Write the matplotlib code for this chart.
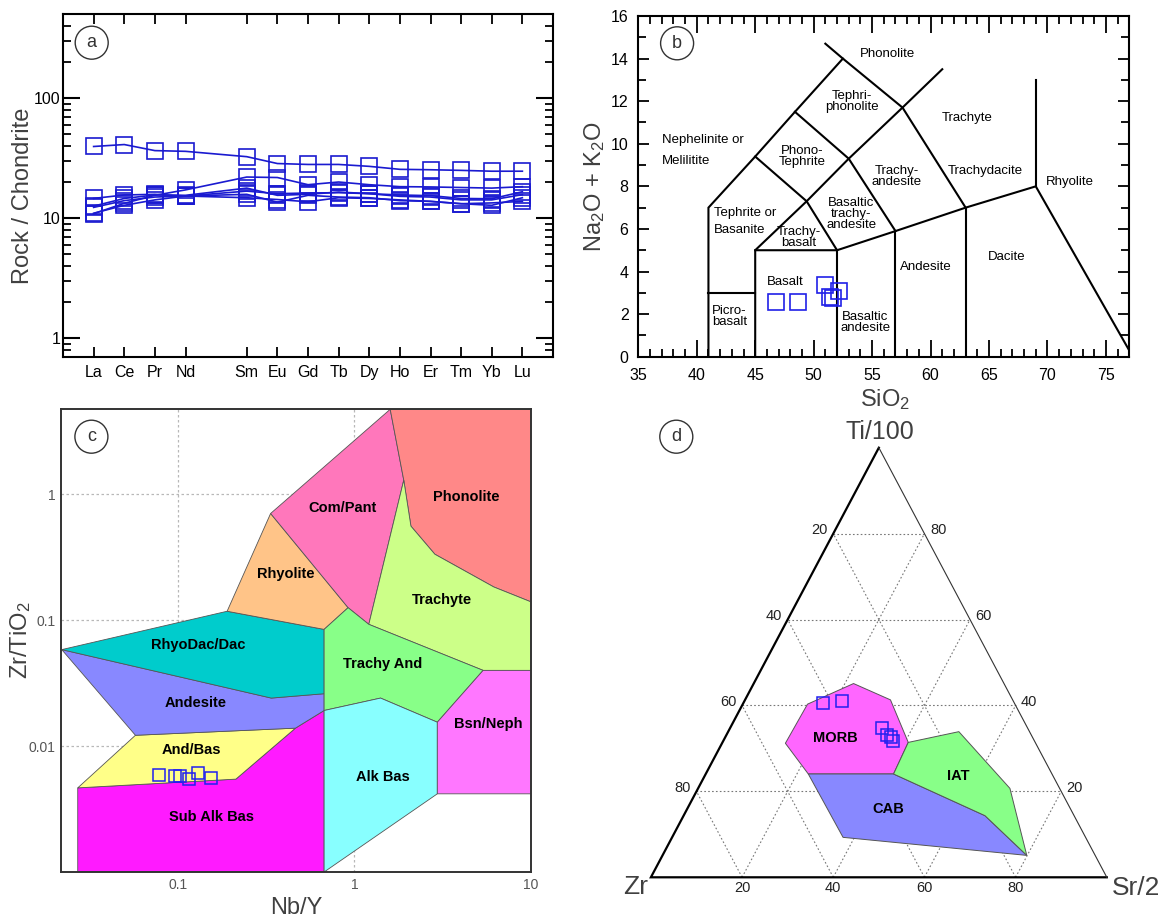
import matplotlib
matplotlib.use('Agg')
import matplotlib.pyplot as plt
from matplotlib.patches import Polygon, Ellipse
from matplotlib.ticker import MultipleLocator, NullLocator, FuncFormatter

plt.rcParams['font.family'] = ['Liberation Sans', 'DejaVu Sans']
plt.rcParams['mathtext.fontset'] = 'custom'
plt.rcParams['mathtext.rm'] = 'Liberation Sans'
plt.rcParams['mathtext.it'] = 'Liberation Sans:italic'
plt.rcParams['mathtext.bf'] = 'Liberation Sans:bold'

W, H = 1165, 922

# ---- (a) chondrite-normalised REE patterns
ree = ['La', 'Ce', 'Pr', 'Nd', 'Sm', 'Eu', 'Gd', 'Tb', 'Dy', 'Ho', 'Er', 'Tm', 'Yb', 'Lu']
ree_pos = [0, 1, 2, 3, 5, 6, 7, 8, 9, 10, 11, 12, 13, 14]   # gap left for Pm
ree_samples = [
    [39.5, 41.0, 36.5, 36.0, 32.5, 28.5, 28.0, 28.0, 27.0, 25.5, 25.3, 25.0, 24.6, 24.6],
    [10.9, 13.3, 15.5, 17.2, 22.0, 21.8, 19.0, 20.0, 19.0, 18.3, 18.2, 18.0, 17.8, 18.3],
    [14.6, 15.6, 15.8, 15.3, 16.8, 16.0, 16.2, 16.3, 16.0, 15.6, 15.4, 14.6, 14.5, 16.6],
    [12.6, 14.6, 15.6, 15.5, 17.8, 15.5, 15.8, 16.5, 16.0, 15.2, 15.0, 14.2, 14.2, 15.7],
    [11.0, 12.8, 14.2, 15.3, 15.8, 13.6, 15.5, 15.0, 14.8, 14.0, 13.8, 13.2, 12.8, 14.8],
    [12.3, 14.0, 15.0, 15.3, 14.8, 14.3, 13.7, 14.8, 14.6, 14.2, 13.8, 13.2, 13.4, 13.8],
]

# ---- (b) TAS
sio2 = [46.75, 48.66, 50.97, 52.2, 51.37, 51.65]
alkali = [2.58, 2.58, 3.37, 3.10, 2.79, 2.74]
tas_lines = [
    [(41, 0), (41, 7), (45, 9.4), (48.4, 11.5), (52.5, 14)],
    [(45, 0), (45, 5), (49.4, 7.3), (53, 9.3), (57.6, 11.7), (61, 13.5)],
    [(41, 3), (45, 3)],
    [(45, 5), (52, 5), (57, 5.9), (63, 7), (69, 8), (77.3, 0)],
    [(52, 0), (52, 5)],
    [(57, 0), (57, 5.9)],
    [(63, 0), (63, 7)],
    [(69, 8), (69, 13)],
    [(45, 9.4), (49.4, 7.3), (52, 5)],
    [(48.4, 11.5), (53, 9.3), (57, 5.9)],
    [(51.0, 14.7), (52.5, 14), (57.6, 11.7), (63, 7)],
]
tas_names = ['Phonolite', 'Tephri-\nphonolite', 'Trachyte', 'Phono-\nTephrite', 'Trachy-\nandesite',
             'Trachydacite', 'Rhyolite', 'Basaltic\ntrachy-\nandesite', 'Trachy-\nbasalt', 'Basalt',
             'Andesite', 'Dacite', 'Picro-\nbasalt', 'Basaltic\nandesite']
tas_name_x = [56.3, 53.3, 63.1, 49.0, 57.1, 64.7, 71.95, 53.2, 48.7, 47.6, 59.6, 66.5, 42.8, 54.4]
tas_name_y = [14.2, 12.0, 11.2, 9.4, 8.45, 8.7, 8.2, 6.7, 5.6, 3.5, 4.2, 4.7, 1.9, 1.6]

# ---- (c) Zr/TiO2 vs Nb/Y
nby = [0.0778, 0.0963, 0.1028, 0.116, 0.1306, 0.155]
zrti = [0.00585, 0.00577, 0.00577, 0.0055, 0.0061, 0.00556]
wf_fields = {
    'Sub Alk Bas': [(0.0271, 0.00466), (0.213, 0.00547), (0.463, 0.0139), (0.673, 0.0192),
                    (0.673, 0.001), (0.0271, 0.001)],
    'And/Bas': [(0.0575, 0.0122), (0.463, 0.0139), (0.213, 0.00547), (0.0271, 0.00466)],
    'Andesite': [(0.022, 0.0585), (0.338, 0.0241), (0.673, 0.0261), (0.673, 0.0192),
                 (0.463, 0.0139), (0.0575, 0.0122)],
    'RhyoDac/Dac': [(0.022, 0.0585), (0.190, 0.118), (0.673, 0.0847), (0.673, 0.0261), (0.338, 0.0241)],
    'Rhyolite': [(0.190, 0.118), (0.335, 0.706), (0.920, 0.126), (0.673, 0.0847)],
    'Com/Pant': [(0.335, 0.706), (1.593, 4.75), (1.901, 1.30), (1.205, 0.0929), (0.920, 0.126)],
    'Phonolite': [(1.593, 4.75), (10, 4.75), (10, 0.140), (6.15, 0.184), (2.851, 0.335),
                  (2.087, 0.560), (1.901, 1.30)],
    'Trachyte': [(1.901, 1.30), (2.087, 0.560), (2.851, 0.335), (6.15, 0.184), (10, 0.140),
                 (10, 0.0400), (5.35, 0.0400), (1.205, 0.0929)],
    'Trachy And': [(0.920, 0.126), (1.205, 0.0929), (5.35, 0.0400), (2.944, 0.0155),
                   (1.405, 0.0241), (0.673, 0.0192), (0.673, 0.0847)],
    'Alk Bas': [(0.673, 0.0192), (1.405, 0.0241), (2.944, 0.0155), (2.944, 0.00418), (0.673, 0.001)],
    'Bsn/Neph': [(2.944, 0.0155), (5.35, 0.0400), (10, 0.0400), (10, 0.00418), (2.944, 0.00418)],
}
wf_colors = {
    'Sub Alk Bas': '#ff1aff', 'And/Bas': '#ffff88', 'Andesite': '#8888ff', 'RhyoDac/Dac': '#00cccc',
    'Rhyolite': '#ffc488', 'Com/Pant': '#ff77bb', 'Phonolite': '#ff8888', 'Trachyte': '#ccff88',
    'Trachy And': '#88ff88', 'Alk Bas': '#88ffff', 'Bsn/Neph': '#ff77ff',
}
wf_label_pos = {
    'Sub Alk Bas': (0.154, 0.00275), 'And/Bas': (0.119, 0.0094), 'Andesite': (0.126, 0.0221),
    'RhyoDac/Dac': (0.131, 0.0633), 'Rhyolite': (0.409, 0.232), 'Com/Pant': (0.85, 0.783),
    'Phonolite': (4.28, 0.958), 'Trachyte': (3.13, 0.146), 'Trachy And': (1.45, 0.0447),
    'Alk Bas': (1.45, 0.00567), 'Bsn/Neph': (5.73, 0.0151),
}

# ---- (d) Ti/100 - Zr - Sr/2 ternary (percent Zr, Ti, Sr)
tern_zr = [41.9, 37.6, 32.0, 31.6, 31.0, 30.9]
tern_ti = [40.5, 41.1, 34.8, 33.1, 32.6, 31.8]
tern_sr = [17.6, 21.3, 33.2, 35.3, 36.4, 37.3]
pc_fields = {
    'MORB': [(33.0, 45.1, 21.9), (26.8, 41.3, 31.9), (27.85, 31.4, 40.75), (34.75, 24.05, 41.2),
             (53.45, 24.05, 22.5), (54.9, 31.2, 13.9), (45.5, 40.3, 14.2)],
    'CAB': [(53.45, 24.05, 22.5), (34.75, 24.05, 41.2), (19.55, 14.35, 66.1), (15.0, 5.1, 79.9),
            (53.2, 9.3, 37.5)],
    'IAT': [(34.75, 24.05, 41.2), (27.85, 31.4, 40.75), (15.5, 33.9, 50.6), (10.9, 20.7, 68.4),
            (15.0, 5.1, 79.9), (19.55, 14.35, 66.1)],
}
pc_colors = {'MORB': '#ff66ff', 'CAB': '#8888ff', 'IAT': '#88ff88'}


def box(left, top, right, bottom):
    return [left / W, 1 - bottom / H, (right - left) / W, (bottom - top) / H]


def panel_letter(fig, x, y, s):
    fig.add_artist(Ellipse((x / W, 1 - y / H), 33 / W, 33 / H, transform=fig.transFigure,
                           fill=False, ec='#333333', lw=1.0))
    fig.text(x / W, 1 - y / H, s, ha='center', va='center', fontsize=13, color='#333333')


def tern_xy(zr, ti, sr):
    tot = zr + ti + sr
    return (sr + ti / 2) / tot, ti / tot


fig = plt.figure(figsize=(W / 100, H / 100), dpi=100)
blue = '#1a1ad0'
label_col = '#404040'

# ---------------- panel a
ax = fig.add_axes(box(63, 14, 553, 357))
for s in ree_samples:
    ax.plot(ree_pos, s, color=blue, lw=1.2, marker='s', ms=11.5, mfc='none', mec=blue, mew=1.2)
ax.set_yscale('log')
ax.set_ylim(0.7, 500)
ax.set_xlim(-1, 15)
ax.set_xticks(ree_pos)
ax.set_xticklabels(ree)
ax.set_yticks([1, 10, 100])
ax.yaxis.set_major_formatter(FuncFormatter(lambda v, p: '%g' % v))
ax.tick_params(axis='x', which='major', direction='in', top=True, length=7, width=1.3,
               labelsize=11.5, pad=6)
ax.tick_params(axis='y', which='major', direction='in', right=True, length=12, width=1.5,
               labelsize=11.5, pad=2)
ax.tick_params(axis='y', which='minor', direction='in', right=True, length=6, width=1.3)
for sp in ax.spines.values():
    sp.set_linewidth(1.5)
ax.set_ylabel('Rock / Chondrite', fontsize=17, color=label_col)
ax.yaxis.set_label_coords(-0.06, 0.47)

# ---------------- panel b
ax = fig.add_axes(box(638.3, 16, 1129.3, 356.7))
for seg in tas_lines:
    ax.plot([p[0] for p in seg], [p[1] for p in seg], color='black', lw=1.5, solid_joinstyle='miter')
for name, x, y in zip(tas_names, tas_name_x, tas_name_y):
    ax.text(x, y, name, ha='center', va='center', fontsize=9.5, linespacing=0.85)
ax.text(37.0, 10.2, 'Nephelinite or', ha='left', va='center', fontsize=9.5)
ax.text(37.0, 9.2, 'Melilitite', ha='left', va='center', fontsize=9.5)
ax.text(41.5, 6.35, 'Tephrite or\nBasanite', ha='left', va='center', fontsize=9.5, linespacing=1.5)
ax.plot(sio2, alkali, ls='none', marker='s', ms=11.5, mfc='none', mec='#2020e8', mew=1.2)
ax.set_xlim(35, 77)
ax.set_ylim(0, 16)
ax.xaxis.set_major_locator(MultipleLocator(5))
ax.xaxis.set_minor_locator(MultipleLocator(1))
ax.yaxis.set_major_locator(MultipleLocator(2))
ax.yaxis.set_minor_locator(MultipleLocator(1))
ax.tick_params(axis='x', which='major', direction='in', top=True, length=12, width=1.3,
               labelsize=11.5, pad=8)
ax.tick_params(axis='x', which='minor', direction='in', top=True, length=6, width=1.3)
ax.tick_params(axis='y', which='major', direction='in', right=True, length=8, width=1.3,
               labelsize=11.5, pad=7)
ax.tick_params(axis='y', which='minor', direction='in', right=True, length=6, width=1.3)
for sp in ax.spines.values():
    sp.set_linewidth(1.5)
ax.set_ylabel('Na$_2$O + K$_2$O', fontsize=17, color=label_col)
ax.yaxis.set_label_coords(-0.064, 0.5)
ax.set_xlabel('SiO$_2$', fontsize=17, color=label_col)
ax.xaxis.set_label_coords(0.502, -0.09)

# ---------------- panel c
ax = fig.add_axes(box(61.4, 409.3, 531.1, 872))
ax.set_xscale('log')
ax.set_yscale('log')
ax.set_xlim(0.0219, 10)
ax.set_ylim(0.001, 4.75)
ax.set_xticks([0.1, 1, 10])
ax.set_yticks([0.01, 0.1, 1])
ax.xaxis.set_minor_locator(NullLocator())
ax.yaxis.set_minor_locator(NullLocator())
fmt = FuncFormatter(lambda v, p: '%g' % v)
ax.xaxis.set_major_formatter(fmt)
ax.yaxis.set_major_formatter(fmt)
ax.grid(True, which='major', color='#b8b8b8', lw=0.9, ls=(0, (2, 2)))
ax.set_axisbelow(True)
for name, verts in wf_fields.items():
    ax.add_patch(Polygon(verts, closed=True, fc=wf_colors[name], ec='#555555', lw=0.6, zorder=2))
    lx, ly = wf_label_pos[name]
    ax.text(lx, ly, name, ha='center', va='center', fontsize=10.5, fontweight='bold', zorder=4)
ax.plot(nby, zrti, ls='none', marker='s', ms=8, mfc='none', mec='#2020f0', mew=1.1, zorder=5)
ax.tick_params(length=0, labelsize=10, labelcolor='#555555', pad=4)
for sp in ax.spines.values():
    sp.set_linewidth(1.4)
    sp.set_color('#333333')
    sp.set_zorder(6)
ax.set_ylabel('Zr/TiO$_2$', fontsize=17, color=label_col)
ax.yaxis.set_label_coords(-0.06, 0.5)
ax.set_xlabel('Nb/Y', fontsize=17, color=label_col)
ax.xaxis.set_label_coords(0.5, -0.054)

# ---------------- panel d
ax = fig.add_axes(box(650.9, 447.7, 1106.8, 877.3))
ax.set_xlim(0, 1)
ax.set_ylim(0, 1)
ax.axis('off')
grid_kw = dict(color='#777777', lw=0.8, ls=(0, (1.5, 2)), zorder=1)
for v in [0.2, 0.4, 0.6, 0.8]:
    ax.plot([v / 2, 1 - v / 2], [v, v], **grid_kw)
    ax.plot([v, v + (1 - v) / 2], [0, 1 - v], **grid_kw)
    ax.plot([1 - v, (1 - v) / 2], [0, 1 - v], **grid_kw)
for name, verts in pc_fields.items():
    pts = [tern_xy(*p) for p in verts]
    ax.add_patch(Polygon(pts, closed=True, fc=pc_colors[name], ec='#555555', lw=0.7, zorder=2))
ax.plot([0.5, 0, 1], [1, 0, 0], color='black', lw=1.6, zorder=3, solid_joinstyle='miter',
        clip_on=False)
ax.plot([0.5, 1], [1, 0], color='#333333', lw=0.8, zorder=3, clip_on=False)
ax.text(0.405, 0.3235, 'MORB', ha='center', va='center', fontsize=10.5, fontweight='bold', zorder=4)
ax.text(0.675, 0.2366, 'IAT', ha='center', va='center', fontsize=10.5, fontweight='bold', zorder=4)
ax.text(0.52, 0.158, 'CAB', ha='center', va='center', fontsize=10.5, fontweight='bold', zorder=4)
px, py = zip(*[tern_xy(z, t, s) for z, t, s in zip(tern_zr, tern_ti, tern_sr)])
ax.plot(px, py, ls='none', marker='s', ms=8.5, mfc='none', mec='#2020f0', mew=1.1, zorder=5,
        clip_on=False)
tick_col = '#222222'
for v in [0.2, 0.4, 0.6, 0.8]:
    lab = '%d' % round((1 - v) * 100)
    ax.text(v / 2 - 0.012, v + 0.008, lab, ha='right', va='center', fontsize=10.5, color=tick_col)
    ax.text(1 - v / 2 + 0.012, v + 0.008, '%d' % round(v * 100), ha='left', va='center',
            fontsize=10.5, color=tick_col)
    ax.text(v, -0.025, '%d' % round(v * 100), ha='center', va='center', fontsize=10.5, color=tick_col)
ax.text(0.502, 1.037, 'Ti/100', ha='center', va='center', fontsize=18, color=label_col)
ax.text(-0.033, -0.022, 'Zr', ha='center', va='center', fontsize=19, color=label_col)
ax.text(1.064, -0.026, 'Sr/2', ha='center', va='center', fontsize=19, color=label_col)

panel_letter(fig, 91.7, 42.7, 'a')
panel_letter(fig, 677.1, 43.3, 'b')
panel_letter(fig, 91.4, 436.7, 'c')
panel_letter(fig, 676.3, 436.7, 'd')

fig.savefig('out.png', dpi=100)
